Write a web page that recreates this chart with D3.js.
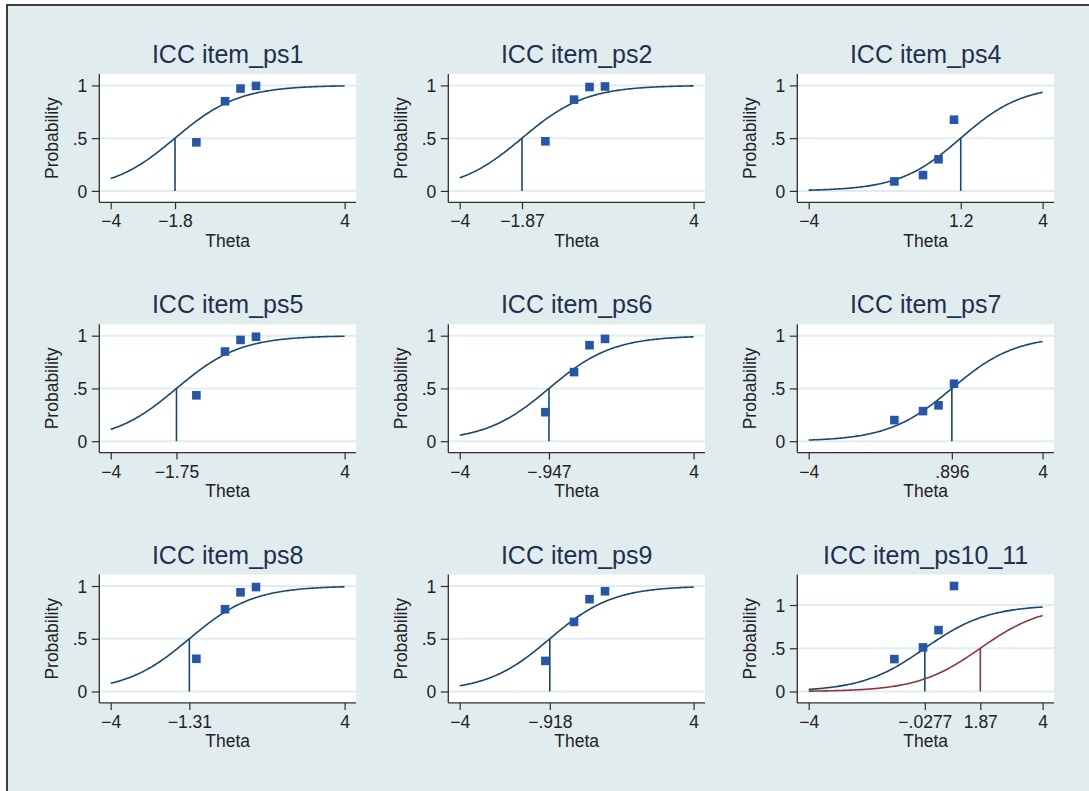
<!DOCTYPE html>
<html>
<head>
<meta charset="utf-8">
<script src="https://cdn.jsdelivr.net/npm/d3@7"></script>
<style>
  html, body { margin: 0; padding: 0; background: #ffffff; }
  svg { display: block; }
  text { font-family: "Liberation Sans", Arial, Helvetica, sans-serif; }
</style>
</head>
<body>
<svg id="chart" width="1089" height="791"></svg>
<script>
// ---------------- data ----------------
const items = ["ps1", "ps2", "ps4", "ps5", "ps6", "ps7", "ps8", "ps9", "ps10_11"];
const titles = items.map(d => "ICC item_" + d);
// estimated difficulty (theta at P = .5) for first curve
const difficulty1 = [-1.8, -1.87, 1.2, -1.75, -0.947, 0.896, -1.31, -0.918, -0.0277];
const difficultyLabels1 = ["\u22121.8", "\u22121.87", "1.2", "\u22121.75", "\u2212.947", ".896", "\u22121.31", "\u2212.918", "\u2212.0277"];
// second category curve (only item ps10_11)
const difficulty2 = [null, null, null, null, null, null, null, null, 1.87];
const difficultyLabels2 = [null, null, null, null, null, null, null, null, "1.87"];
const discrimination = [0.92, 0.92, 0.95, 0.92, 0.92, 0.92, 0.92, 0.93, 0.93];
// theta values of the observed-proportion groups
const thetaGroups = [-1.07, -0.09, 0.44, 0.97];
// observed proportions per item
const obs_ps1 = [0.46, 0.85, 0.97, 0.995];
const obs_ps2 = [0.47, 0.865, 0.985, 0.99];
const obs_ps4 = [0.09, 0.15, 0.30, 0.675];
const obs_ps5 = [0.435, 0.85, 0.96, 0.99];
const obs_ps6 = [0.275, 0.655, 0.91, 0.97];
const obs_ps7 = [0.20, 0.285, 0.34, 0.545];
const obs_ps8 = [0.31, 0.78, 0.94, 0.99];
const obs_ps9 = [0.29, 0.66, 0.875, 0.95];
const obs_ps10_11 = [0.375, 0.51, 0.71, 1.22];
const observed = [obs_ps1, obs_ps2, obs_ps4, obs_ps5, obs_ps6, obs_ps7, obs_ps8, obs_ps9, obs_ps10_11];
const thetaRange = [-4, 4];
const yTicks = [0, 0.5, 1];
const yTickLabels = ["0", ".5", "1"];

// ---------------- styles ----------------
const BG = "#e1ecef";
const NAVY = "#1a476f";
const MAROON = "#90353b";
const MARK = "#2657a6";
const AXIS = "#2e2e2e";
const TXT = "#222222";
const TITLE = "#1f2f50";

const svg = d3.select("#chart");

// graph region
svg.append("rect").attr("x", 7).attr("y", 5).attr("width", 1200).attr("height", 900)
  .attr("fill", BG).attr("stroke", "#3c3c3c").attr("stroke-width", 2);

const plotW = 256.7, plotH = 128.3;
const colX0 = 99.3, colStep = 349;
const rowY0 = 74, rowStep = 250.3;
const inset = 11.4;

items.forEach((item, i) => {
  const col = i % 3, row = Math.floor(i / 3);
  const px = colX0 + col * colStep;
  const py = rowY0 + row * rowStep;
  const g = svg.append("g").attr("transform", `translate(${px},${py})`);

  const yMax = Math.max(1, d3.max(observed[i]));
  const x = d3.scaleLinear().domain(thetaRange).range([inset, plotW - inset]);
  const y = d3.scaleLinear().domain([0, yMax]).range([plotH - inset, inset]);

  // plot region
  g.append("rect").attr("x", 0).attr("y", 0).attr("width", plotW).attr("height", plotH).attr("fill", "#ffffff");

  // grid
  g.selectAll("line.grid").data(yTicks).enter().append("line")
    .attr("x1", 0).attr("x2", plotW)
    .attr("y1", d => y(d)).attr("y2", d => y(d))
    .attr("stroke", BG).attr("stroke-width", 2);

  // curves
  const grid = d3.range(thetaRange[0], thetaRange[1] + 1e-9, 0.05);
  const line = d3.line().x(d => x(d.t)).y(d => y(d.p)).curve(d3.curveLinear);
  const curves = [{ b: difficulty1[i], color: NAVY }];
  if (difficulty2[i] !== null) curves.push({ b: difficulty2[i], color: MAROON });
  curves.forEach(c => {
    const pts = grid.map(t => ({ t, p: 1 / (1 + Math.exp(-discrimination[i] * (t - c.b))) }));
    g.append("path").datum(pts).attr("d", line)
      .attr("fill", "none").attr("stroke", c.color).attr("stroke-width", 1.6);
    g.append("line")
      .attr("x1", x(c.b)).attr("x2", x(c.b))
      .attr("y1", y(0)).attr("y2", y(0.5))
      .attr("stroke", c.color).attr("stroke-width", 1.6);
  });

  // observed squares
  const s = 8.6;
  g.selectAll("rect.mk").data(observed[i]).enter().append("rect")
    .attr("x", (d, k) => x(thetaGroups[k]) - s / 2)
    .attr("y", d => y(d) - s / 2)
    .attr("width", s).attr("height", s).attr("fill", MARK);

  // axes
  const xVals = [thetaRange[0], difficulty1[i]];
  const xLabs = ["\u22124", difficultyLabels1[i]];
  if (difficulty2[i] !== null) { xVals.push(difficulty2[i]); xLabs.push(difficultyLabels2[i]); }
  xVals.push(thetaRange[1]); xLabs.push("4");

  const xAxis = d3.axisBottom(x).tickValues(xVals)
    .tickFormat((d, k) => xLabs[k]).tickSize(7).tickPadding(5.5).tickSizeOuter(0);
  const gx = g.append("g").attr("transform", `translate(0,${plotH})`).call(xAxis);
  gx.select(".domain").remove();

  const yAxis = d3.axisLeft(y).tickValues(yTicks)
    .tickFormat((d, k) => yTickLabels[k]).tickSize(7.5).tickPadding(4.5).tickSizeOuter(0);
  const gy = g.append("g").call(yAxis);
  gy.select(".domain").remove();

  [gx, gy].forEach(a => {
    a.selectAll("line").attr("stroke", AXIS).attr("stroke-width", 1.2);
    a.selectAll("text").attr("fill", TXT).style("font-size", "17.5px")
      .style("font-family", "'Liberation Sans', Arial, sans-serif");
  });
  gy.selectAll("text").attr("dy", "0.35em");

  // axis lines
  g.append("line").attr("x1", 0).attr("x2", 0).attr("y1", 0).attr("y2", plotH)
    .attr("stroke", AXIS).attr("stroke-width", 1.3);
  g.append("line").attr("x1", 0).attr("x2", plotW).attr("y1", plotH).attr("y2", plotH)
    .attr("stroke", AXIS).attr("stroke-width", 1.3);

  // axis titles
  g.append("text").attr("x", (x.range()[0] + x.range()[1]) / 2).attr("y", plotH + 44.5)
    .attr("text-anchor", "middle").attr("fill", TXT).style("font-size", "17.5px").text("Theta");
  g.append("text")
    .attr("transform", `translate(${-41.5},${(y.range()[0] + y.range()[1]) / 2}) rotate(-90)`)
    .attr("text-anchor", "middle").attr("fill", TXT).style("font-size", "17.5px").text("Probability");

  // title
  g.append("text").attr("x", plotW / 2).attr("y", -11)
    .attr("text-anchor", "middle").attr("fill", TITLE).style("font-size", "25px").text(titles[i]);
});
</script>
</body>
</html>
